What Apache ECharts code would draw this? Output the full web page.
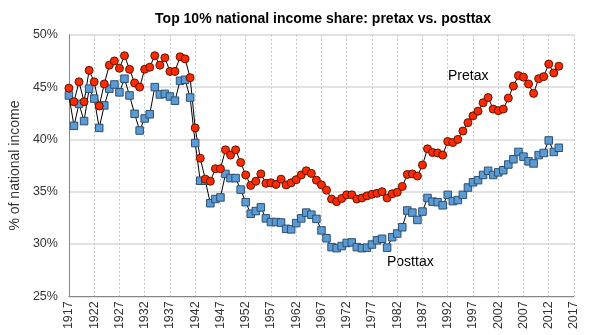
<!DOCTYPE html>
<html>
<head>
<meta charset="utf-8">
<script src="https://cdn.jsdelivr.net/npm/echarts@6/dist/echarts.min.js"></script>
<style>
html,body{margin:0;padding:0;background:#fff;}
#c{width:601px;height:335px;}
</style>
</head>
<body>
<div id="c"></div>
<script>
// Axis categories: years 1917..2017 (tick labels every 5 years)
const firstYear = 1917;
const lastYear = 2017;
const years = [];
for (let y = firstYear; y <= lastYear; y++) years.push(String(y));

const yTicks = [25, 30, 35, 40, 45, 50];

// Top 10% pretax national income share (%), 1917-2014
const pretax = [
  44.9, 43.6, 45.5, 43.6, 46.6, 45.5, 43.2, 45.3, 47.1, 47.5,
  46.8, 48.0, 46.7, 45.4, 45.0, 46.7, 46.9, 48.0, 47.1, 47.8,
  46.5, 46.5, 47.9, 47.7, 45.9, 41.1, 38.2, 36.2, 36.0, 37.2,
  37.2, 39.0, 38.5, 39.0, 37.8, 36.6, 35.6, 36.0, 36.7, 35.8,
  35.85, 35.7, 36.2, 35.65, 35.85, 36.15, 36.6, 37.0, 36.75, 36.1,
  35.65, 35.15, 34.3, 34.05, 34.35, 34.7, 34.7, 34.3, 34.4, 34.6,
  34.75, 34.85, 35.0, 34.4, 34.8, 34.95, 35.5, 36.65, 36.7, 36.5,
  37.55, 39.1, 38.75, 38.7, 38.5, 39.8, 39.7, 40.0, 40.8, 41.6,
  42.25, 42.7, 43.5, 44.0, 42.9, 42.75, 42.9, 43.95, 45.1, 46.1,
  45.95, 45.3, 44.4, 45.8, 46.0, 47.2, 46.35, 47.0
];

// Top 10% posttax national income share (%), 1917-2014
const posttax = [
  44.2, 41.3, 43.4, 41.75, 44.85, 43.9, 41.1, 43.25, 44.85, 45.25,
  44.5, 45.8, 44.2, 42.45, 40.85, 42.0, 42.4, 45.0, 44.3, 44.35,
  44.1, 43.7, 45.6, 45.7, 44.0, 39.65, 36.05, 36.05, 33.9, 34.3,
  34.45, 36.7, 36.3, 36.3, 35.2, 34.0, 32.9, 33.15, 33.5, 32.45,
  32.1, 32.1, 32.05, 31.45, 31.4, 32.0, 32.45, 33.0, 32.8, 32.4,
  31.3, 30.55, 29.7, 29.6, 29.8, 30.1, 30.15, 29.7, 29.6, 29.65,
  29.95, 30.35, 30.5, 29.65, 30.65, 31.0, 31.6, 33.2, 33.0, 32.3,
  33.1, 34.4, 34.05, 34.0, 33.7, 34.7, 34.1, 34.2, 34.7, 35.4,
  35.9, 36.1, 36.6, 37.0, 36.6, 36.85, 37.05, 37.6, 38.1, 38.8,
  38.35, 37.9, 37.7, 38.5, 38.7, 39.9, 38.8, 39.2
];

const chart = echarts.init(document.getElementById('c'), null, {renderer: 'canvas'});
const FONT = '"Liberation Sans", Arial, sans-serif';

chart.setOption({
  animation: false,
  backgroundColor: '#ffffff',
  title: {
    text: 'Top 10% national income share: pretax vs. posttax',
    left: 318,
    top: 7,
    textAlign: 'center',
    textStyle: {fontFamily: FONT, fontSize: 14, fontWeight: 'bold', color: '#000'}
  },
  grid: {left: 61.5, right: 27, top: 34.8, bottom: 38.7, containLabel: false},
  xAxis: {
    type: 'category',
    data: years,
    boundaryGap: false,
    axisLine: {show: true, lineStyle: {color: '#868686', width: 1}},
    axisTick: {show: false},
    axisLabel: {
      interval: 4,
      rotate: 90,
      margin: 5,
      fontFamily: FONT,
      fontSize: 12.5,
      color: '#333'
    },
    splitLine: {show: true, interval: 4, lineStyle: {color: '#c8c8c8', type: [2, 2], width: 1}}
  },
  yAxis: {
    type: 'value',
    min: yTicks[0],
    max: yTicks[yTicks.length - 1],
    interval: 5,
    name: '% of national income',
    nameLocation: 'middle',
    nameGap: 40,
    nameTextStyle: {fontFamily: FONT, fontSize: 14, color: '#333'},
    axisLine: {show: true, lineStyle: {color: '#868686', width: 1}},
    axisTick: {show: false},
    axisLabel: {formatter: '{value}%', margin: 11, fontFamily: FONT, fontSize: 12.5, color: '#333'},
    splitLine: {show: true, lineStyle: {color: '#d9d9d9', width: 1.5}}
  },
  graphic: [
    {type: 'text', left: 448, top: 69, style: {text: 'Pretax', fontFamily: FONT, fontSize: 14, fill: '#000'}},
    {type: 'text', left: 387, top: 255, style: {text: 'Posttax', fontFamily: FONT, fontSize: 14, fill: '#000'}}
  ],
  series: [
    {
      name: 'Posttax',
      type: 'line',
      data: posttax,
      symbol: 'rect',
      symbolSize: 7.5,
      showAllSymbol: true,
      lineStyle: {color: '#000', width: 1},
      itemStyle: {color: '#5b9bd5', borderColor: '#2e4f6e', borderWidth: 1}
    },
    {
      name: 'Pretax',
      type: 'line',
      data: pretax,
      symbol: 'circle',
      symbolSize: 8,
      showAllSymbol: true,
      lineStyle: {color: '#000', width: 1},
      itemStyle: {color: '#ff2a00', borderColor: '#5a1500', borderWidth: 1}
    }
  ]
});
</script>
</body>
</html>
